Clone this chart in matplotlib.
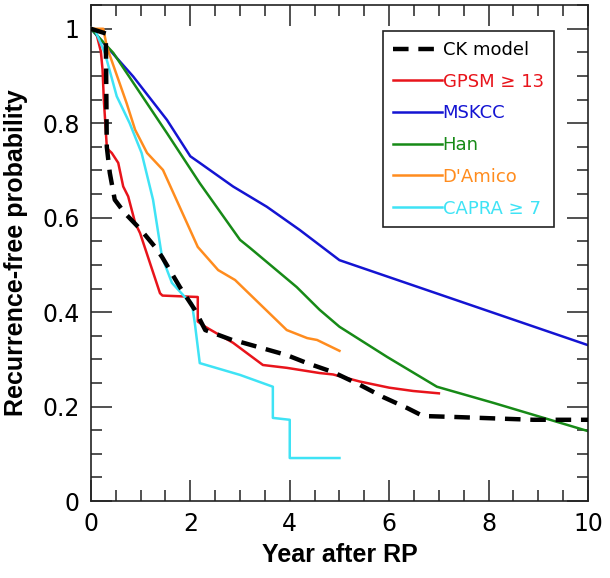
import matplotlib
matplotlib.use("Agg")
import matplotlib.pyplot as plt
from matplotlib.ticker import MultipleLocator

plt.rcParams['font.family'] = ['DejaVu Sans']

# ---- data ----
ck_x = [0, 0.3, 0.32, 0.38, 0.48, 0.68, 1.0, 1.29, 1.43, 1.79, 2.09, 2.3, 2.84, 3.0, 3.94, 4.35, 4.87, 5.41, 5.88, 6.36, 6.68, 7.3, 8.9, 10]
ck_y = [1.0, 0.99, 0.75, 0.695, 0.638, 0.61, 0.575, 0.538, 0.517, 0.453, 0.405, 0.362, 0.341, 0.337, 0.309, 0.292, 0.273, 0.246, 0.22, 0.197, 0.18, 0.178, 0.172, 0.172]

gpsm_x = [0, 0.11, 0.2, 0.235, 0.26, 0.32, 0.34, 0.42, 0.55, 0.65, 0.75, 0.89, 0.99, 1.39, 1.44, 2.15, 2.15, 2.3, 2.86, 3.46, 3.94, 4.6, 4.87, 5.41, 6.0, 6.48, 7.0]
gpsm_y = [1.0, 0.99, 0.952, 0.913, 0.85, 0.75, 0.745, 0.737, 0.716, 0.666, 0.645, 0.589, 0.567, 0.44, 0.435, 0.432, 0.38, 0.369, 0.335, 0.288, 0.282, 0.271, 0.268, 0.253, 0.24, 0.233, 0.228]

mskcc_x = [0, 0.38, 0.85, 1.53, 2.0, 2.19, 2.86, 3.54, 4.2, 5.0, 10]
mskcc_y = [1.0, 0.955, 0.899, 0.807, 0.73, 0.716, 0.666, 0.623, 0.574, 0.51, 0.33]

han_x = [0, 0.45, 1.53, 2.19, 3.0, 3.2, 4.14, 4.6, 5.0, 5.96, 6.96, 8.09, 10]
han_y = [1.0, 0.949, 0.779, 0.673, 0.553, 0.536, 0.453, 0.405, 0.369, 0.305, 0.242, 0.208, 0.148]

damico_x = [0, 0.25, 0.32, 0.72, 0.89, 1.13, 1.45, 2.15, 2.56, 2.9, 3.94, 4.35, 4.55, 5.0]
damico_y = [1.0, 1.0, 0.962, 0.842, 0.786, 0.737, 0.701, 0.538, 0.489, 0.468, 0.362, 0.345, 0.341, 0.318]

capra_x = [0, 0.08, 0.28, 0.52, 0.78, 1.02, 1.25, 1.43, 1.63, 1.89, 2.03, 2.09, 2.19, 3.0, 3.66, 3.66, 4.0, 4.0, 5.0]
capra_y = [1.0, 0.998, 0.949, 0.857, 0.8, 0.737, 0.638, 0.517, 0.462, 0.432, 0.419, 0.377, 0.292, 0.267, 0.242, 0.176, 0.172, 0.091, 0.091]

labels = ['CK model', 'GPSM \u2265 13', 'MSKCC', 'Han', "D'Amico", 'CAPRA \u2265 7']
colors = ['black', '#e8141b', '#1414d2', '#178a17', '#ff8c1e', '#3fe3f5']

fig = plt.figure(figsize=(6.1, 5.78), dpi=100)
ax = fig.add_axes([0.149, 0.1332, 0.815, 0.8587])

series = [(ck_x, ck_y), (gpsm_x, gpsm_y), (mskcc_x, mskcc_y), (han_x, han_y), (damico_x, damico_y), (capra_x, capra_y)]
for (xs, ys), lab, col in list(zip(series, labels, colors))[1:]:
    ax.plot(xs, ys, color=col, lw=1.8, label=lab, zorder=2)
ax.plot(ck_x, ck_y, color='black', lw=3.2, ls=(0, (3.5, 2.2)), label=labels[0], zorder=3)

ax.set_xlim(0, 10)
ax.set_ylim(0, 1.051)
ax.xaxis.set_minor_locator(MultipleLocator(0.5))
ax.yaxis.set_minor_locator(MultipleLocator(0.05))
ax.set_yticks([0, 0.2, 0.4, 0.6, 0.8, 1.0])
ax.set_yticklabels(['0', '0.2', '0.4', '0.6', '0.8', '1'])
ax.set_xticks([0, 2, 4, 6, 8, 10])
ax.set_xticklabels(['0', '2', '4', '6', '8', '10'])

ax.tick_params(which='both', direction='in', top=True, right=True, width=1.1, color='#222222')
ax.tick_params(which='major', length=15, labelsize=17, pad=8)
ax.tick_params(which='minor', length=8)
for s in ax.spines.values():
    s.set_linewidth(1.2)
    s.set_color('#222222')

ax.set_xlabel('Year after RP', fontsize=18, fontweight='bold', labelpad=5,
              family=['Liberation Sans', 'DejaVu Sans'])
ax.set_ylabel('Recurrence-free probability', fontsize=18, fontweight='bold', labelpad=10,
              family=['Liberation Sans', 'DejaVu Sans'])

handles, labs = ax.get_legend_handles_labels()
order = [labs.index(l) for l in labels]
leg = ax.legend([handles[i] for i in order], [labs[i] for i in order],
                loc='upper left', bbox_to_anchor=(0.5875, 0.947), fontsize=13,
                handlelength=2.7, handletextpad=0.05, labelspacing=0.76,
                borderpad=0.55, borderaxespad=0, fancybox=False, framealpha=1,
                edgecolor='#222222')
leg.get_frame().set_linewidth(1.2)
for t, c in zip(leg.get_texts(), colors):
    t.set_color(c)

fig.savefig('out.png', dpi=100)
